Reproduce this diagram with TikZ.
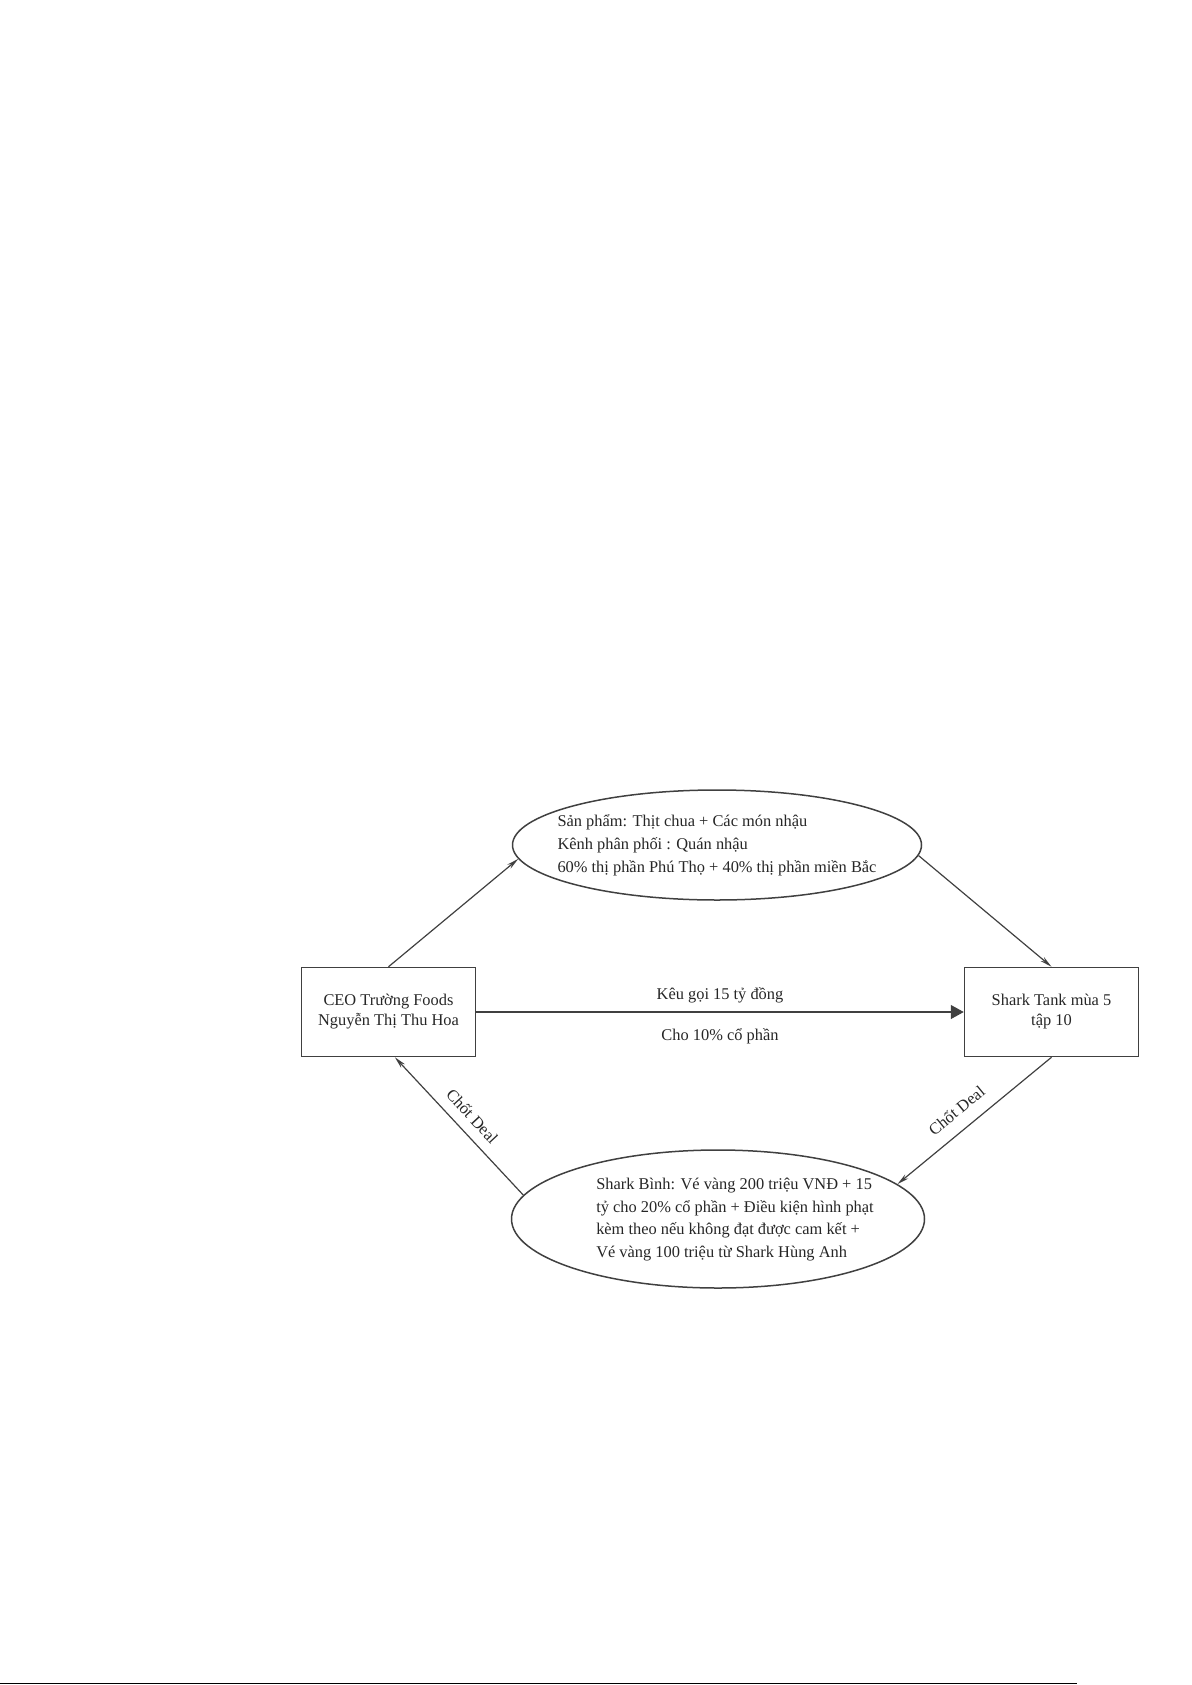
\documentclass[tikz,border=0pt]{standalone}
\usepackage{fontspec}
\setmainfont{Liberation Serif}
\usetikzlibrary{arrows.meta,shapes.geometric}
\begin{document}
\begin{tikzpicture}[x=0.5pt,y=-0.5pt,
  every node/.style={font=\fontsize{8.2}{10}\selectfont, text=black!85},
  boxnode/.style={draw=black!75, line width=0.75pt, minimum width=87pt, minimum height=44.5pt, align=center, inner sep=0pt},
  ovalnode/.style={draw=black!75, line width=0.75pt, ellipse, inner xsep=-12pt, inner ysep=0pt, font=\fontsize{8.2}{11.3}\selectfont},
  conn/.style={draw=black!75, line width=0.6pt, -{Stealth[length=6pt,width=2.6pt]}},
  bigconn/.style={draw=black!75, line width=0.6pt, -{Triangle[length=6.5pt,width=7pt]}},
  lbl/.style={inner sep=1pt}]
\useasboundingbox (0,0) rectangle (1192,1685);
% nodes
\node[boxnode] (ceo) at (388.5,1012) {CEO Trường Foods\\Nguyễn Thị Thu Hoa};
\node[boxnode] (shark) at (1051.5,1012) {Shark Tank mùa 5\\tập 10};
\node[ovalnode, minimum width=204.5pt, minimum height=55pt] (info) at (717,845)
  {\begin{tabular}{@{}l@{}}Sản phẩm: Thịt chua + Các món nhậu\\Kênh phân phối : Quán nhậu\\60\% thị phần Phú Thọ + 40\% thị phần miền Bắc\end{tabular}};
\node[ovalnode, minimum width=206.5pt, minimum height=69pt] (deal) at (718,1219)
  {\hspace*{17pt}\begin{tabular}{@{}l@{}}Shark Bình: Vé vàng 200 triệu VNĐ + 15\\tỷ cho 20\% cổ phần + Điều kiện hình phạt\\kèm theo nếu không đạt được cam kết +\\Vé vàng 100 triệu từ Shark Hùng Anh\end{tabular}};
% connectors
\draw[conn] (ceo.north) -- (info.184);
\draw[conn] (info.-3) -- (shark.north);
\draw[bigconn] (ceo.east) -- (shark.west)
  node[midway, yshift=8.5pt, lbl] {Kêu gọi 15 tỷ đồng}
  node[midway, yshift=-12pt, lbl] {Cho 10\% cổ phần};
\draw[conn] (shark.south) -- (deal.11)
  node[pos=0.537, sloped, above=5.4pt, lbl] {Chốt Deal};
\draw[conn] (deal.173) -- (ceo.-82)
  node[pos=0.49, sloped, above=3.9pt, lbl] {Chốt Deal};
% page rule at the bottom
\coordinate (bl) at (0,1683.5);
\coordinate (br) at (1077,1683.5);
\draw[line width=0.75pt] (bl) -- (br);
\end{tikzpicture}
\end{document}
